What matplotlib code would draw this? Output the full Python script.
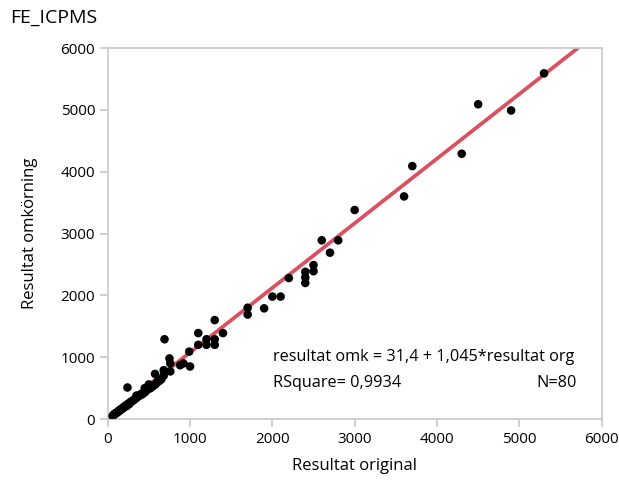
import numpy as np
import matplotlib.pyplot as plt

plt.rcParams['font.family'] = ['Open Sans', 'DejaVu Sans']

# original vs rerun results (80 samples)
org = [5300, 4900, 4500, 4300, 3700, 3600, 3000, 2800, 2700, 2600,
       2500, 2500, 2400, 2400, 2400, 2200, 2100, 2000, 1900, 1700,
       1700, 1400, 1300, 1300, 1300, 1200, 1200, 1100, 1100, 990,
       1000, 920, 880, 760, 750, 690, 680, 760, 575, 240,
       60, 70, 80, 90, 100, 110, 120, 130, 140, 150,
       160, 170, 180, 190, 200, 210, 220, 230, 250, 260,
       280, 300, 320, 350, 380, 400, 420, 450, 470, 500,
       520, 550, 580, 600, 620, 650, 500, 450, 350, 680]
omk = [5590, 4990, 5090, 4290, 4090, 3600, 3380, 2890, 2690, 2890,
       2490, 2390, 2380, 2290, 2200, 2280, 1980, 1980, 1790, 1800,
       1690, 1390, 1600, 1290, 1200, 1200, 1290, 1390, 1200, 1090,
       850, 900, 870, 900, 980, 1290, 790, 770, 730, 510,
       50, 70, 80, 80, 100, 100, 110, 130, 130, 150,
       150, 170, 170, 180, 200, 200, 220, 210, 250, 240,
       280, 290, 310, 340, 370, 400, 400, 430, 460, 490,
       500, 530, 560, 600, 610, 640, 560, 500, 380, 700]

intercept = 31.4
slope = 1.045
rsq = 0.9934
ticks = [0, 1000, 2000, 3000, 4000, 5000, 6000]

fig = plt.figure(figsize=(6.19, 4.8), dpi=100)
ax = fig.add_axes([0.174, 0.127, 0.798, 0.773])

xs = np.array([0, 6000])
ax.plot(xs, intercept + slope * xs, color='#d9505e', lw=2.7, zorder=2)
ax.scatter(org, omk, s=38, color='black', zorder=3, edgecolors='none')

ax.set_xlim(0, 6000)
ax.set_ylim(0, 6000)
ax.set_xticks(ticks)
ax.set_yticks(ticks)
for sp in ax.spines.values():
    sp.set_color('#c8c8c8')
    sp.set_linewidth(1.2)
ax.tick_params(length=6, width=1.2, color='#c8c8c8', labelsize=11, pad=3)

ax.set_xlabel('Resultat original', fontsize=12, labelpad=8)
ax.set_ylabel('Resultat omkörning', fontsize=12, labelpad=16)

ax.text(0.335, 0.167, 'resultat omk = 31,4 + 1,045*resultat org',
        transform=ax.transAxes, fontsize=11.7, va='center', ha='left')
ax.text(0.335, 0.097, 'RSquare= ' + f'{rsq}'.replace('.', ','),
        transform=ax.transAxes, fontsize=11.7, va='center', ha='left')
ax.text(0.95, 0.097, f'N={len(org)}',
        transform=ax.transAxes, fontsize=11.7, va='center', ha='right')

fig.text(0.016, 0.962, 'FE_ICPMS', fontsize=14, va='center', ha='left')

fig.savefig('out.png', dpi=100)
